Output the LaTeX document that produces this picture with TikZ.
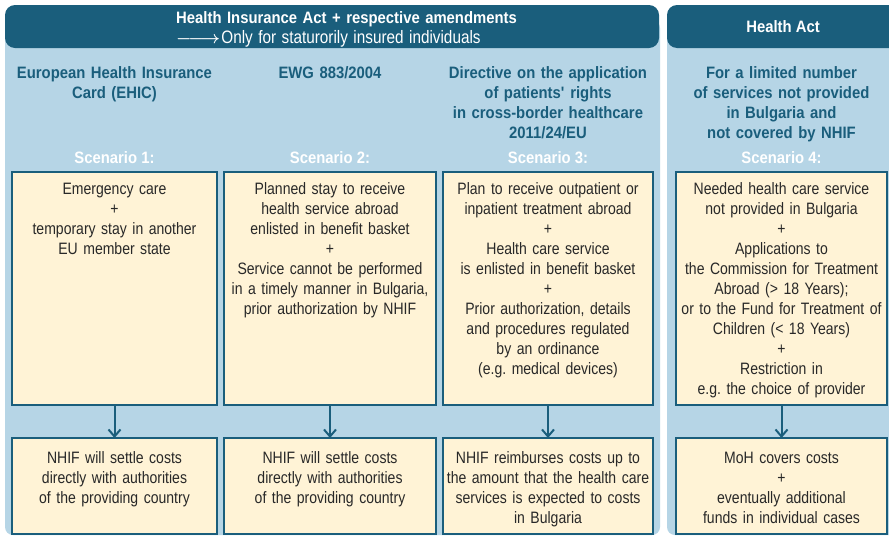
\documentclass[tikz,border=0pt]{standalone}
\usepackage{fontspec}
\setmainfont{Liberation Sans}[FakeStretch=0.85, BoldFeatures={FakeStretch=0.9}]
\usetikzlibrary{positioning, arrows.meta}
\definecolor{hiablue}{RGB}{26,94,124}
\definecolor{panelblue}{RGB}{182,213,230}
\definecolor{boxcream}{RGB}{255,243,214}
\definecolor{boxtext}{RGB}{40,40,40}
\frenchspacing

\begin{document}
\begin{tikzpicture}
    [
        x=1pt, y=-1pt, node distance=33pt and 7pt,
        font=\fontsize{16.5}{20}\selectfont,
        head_bar/.style={fill=hiablue, rounded corners=10pt, minimum height=43pt, inner sep=0pt},
        head_text/.style={text=white, inner sep=0pt, text width=345pt, align=left, anchor=base west},
        law_text/.style={text=hiablue, font=\bfseries\fontsize{16.5}{20}\selectfont, inner sep=0pt, text width=210pt, align=center, anchor=base},
        scen_text/.style={text=white, font=\bfseries\fontsize{16.5}{20}\selectfont, inner sep=0pt, anchor=base},
        cream_box/.style={draw=hiablue, fill=boxcream, line width=2.2pt, outer sep=0pt, text=boxtext, align=center, inner xsep=2pt, inner ysep=3pt, text height=19pt, text depth=208pt},
        result_box/.style={cream_box, text height=22pt, text depth=68pt},
        flow/.style={-{Straight Barb[length=7pt, width=12pt]}, line width=2pt, draw=hiablue},
    ]
        \useasboundingbox (0,0) rectangle (889,536);
        \fill[white] (0,0) rectangle (889,536);
        % light blue panels
        \fill[panelblue, rounded corners=8pt] (5,20) rectangle (660,535);
        \fill[panelblue, rounded corners=8pt] (667,20) rectangle (905,535);
        % header bars
        \node[head_bar, minimum width=654pt] (hia) at (332,26.5) {};
        \node[head_text] (hia_text) at (176,23) {{\bfseries Health Insurance Act + respective amendments}\\{\fontsize{18}{20}\selectfont\boldmath$\relbar\joinrel\relbar\joinrel\rightarrow$\hspace{1pt}Only for staturorily insured individuals}};
        \node[head_bar, minimum width=238pt] (ha) at (786,26.5) {};
        \node[scen_text] (ha_text) at (783,32) {Health Act};
        % scenario boxes
        \node[cream_box, text width=201pt, anchor=north] (s1) at (114.5,172) {Emergency care\\+\\temporary stay in another\\EU member state};
        \node[cream_box, text width=208pt] (s2) [right = of s1] {Planned stay to receive\\health service abroad\\enlisted in benefit basket\\+\\Service cannot be performed\\in a timely manner in Bulgaria,\\prior authorization by NHIF};
        \node[cream_box, text width=206pt] (s3) [right = of s2] {Plan to receive outpatient or\\inpatient treatment abroad\\+\\Health care service\\is enlisted in benefit basket\\+\\Prior authorization, details\\and procedures regulated\\by an ordinance\\(e.g. medical devices)};
        \node[cream_box, text width=207pt] (s4) [right = 23pt of s3] {Needed health care service\\not provided in Bulgaria\\+\\Applications to\\the Commission for Treatment\\Abroad (> 18 Years);\\or to the Fund for Treatment of\\Children (< 18 Years)\\+\\Restriction in\\e.g. the choice of provider};
        % legal basis
        \node[law_text] (l1) at (s1.north |- 0,78) {European Health Insurance\\Card (EHIC)};
        \node[law_text] (l2) at (s2.north |- 0,78) {EWG 883/2004};
        \node[law_text] (l3) at (s3.north |- 0,78) {Directive on the application\\of patients\textquotesingle\ rights\\in cross-border healthcare\\2011/24/EU};
        \node[law_text] (l4) at (s4.north |- 0,78) {For a limited number\\of services not provided\\in Bulgaria and\\not covered by NHIF};
        \node[scen_text] (n1) at (s1.north |- 0,163) {Scenario 1:};
        \node[scen_text] (n2) at (s2.north |- 0,163) {Scenario 2:};
        \node[scen_text] (n3) at (s3.north |- 0,163) {Scenario 3:};
        \node[scen_text] (n4) at (s4.north |- 0,163) {Scenario 4:};
        % outcomes
        \node[result_box, text width=201pt] (r1) [below = of s1] {NHIF will settle costs\\directly with authorities\\of the providing country};
        \node[result_box, text width=208pt] (r2) [below = of s2] {NHIF will settle costs\\directly with authorities\\of the providing country};
        \node[result_box, text width=206pt] (r3) [below = of s3] {NHIF reimburses costs up to\\the amount that the health care\\services is expected to costs\\in Bulgaria};
        \node[result_box, text width=207pt] (r4) [below = of s4] {MoH covers costs\\+\\eventually additional\\funds in individual cases};
        \draw[flow] (s1) -- (r1);
        \draw[flow] (s2) -- (r2);
        \draw[flow] (s3) -- (r3);
        \draw[flow] (s4) -- (r4);
    \end{tikzpicture}
\end{document}
